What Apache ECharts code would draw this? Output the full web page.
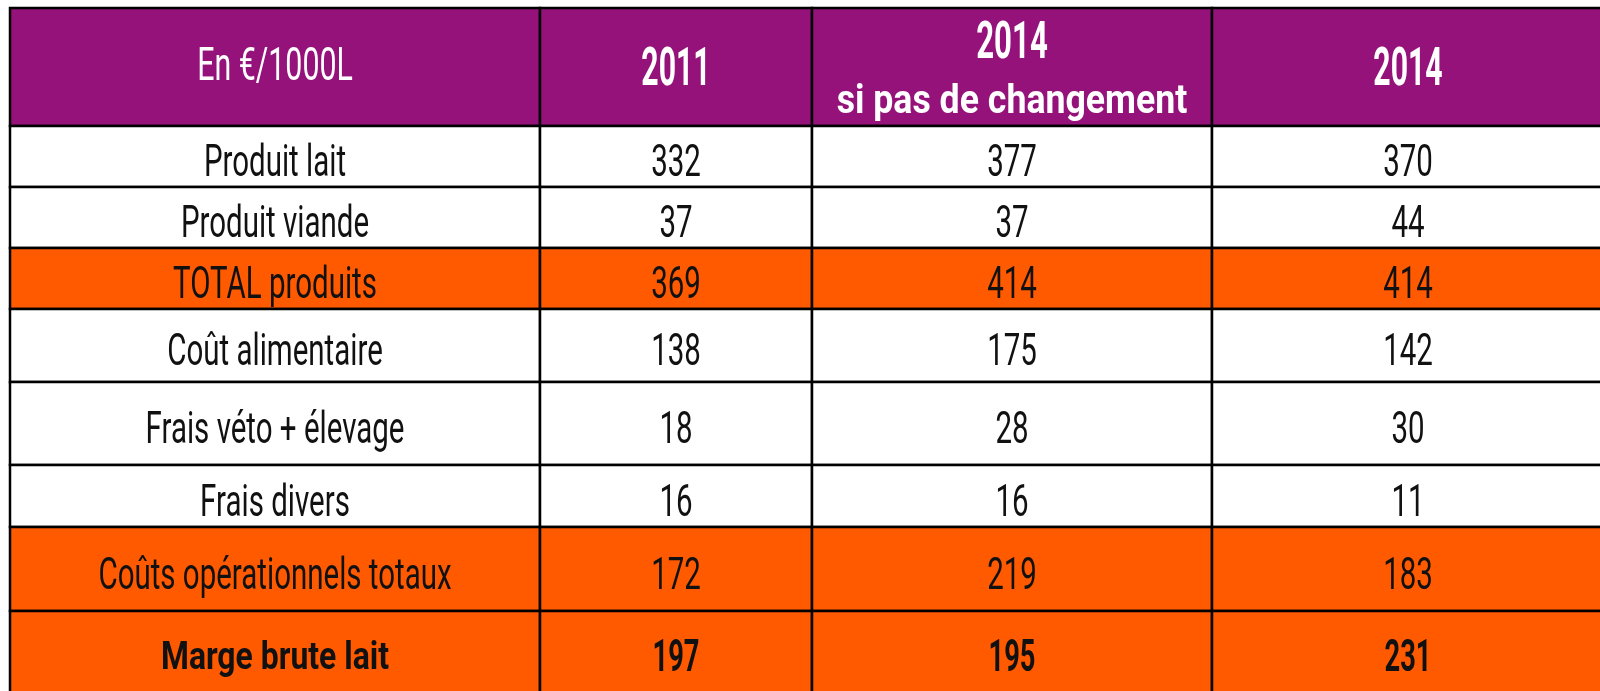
<!DOCTYPE html>
<html>
<head>
<meta charset="utf-8">
<script src="https://cdn.jsdelivr.net/npm/echarts@6/dist/echarts.min.js"></script>
<style>
  html, body { margin: 0; padding: 0; background: #fff; }
  #chart { width: 1600px; height: 691px; }
</style>
</head>
<body>
<div id="chart"></div>
<script>
  // table content
  const headerTop = ['En €/1000L', '2011', '2014', '2014']
  const headerSub = ['', '', 'si pas de changement', '']
  const rowLabels = ['Produit lait', 'Produit viande', 'TOTAL produits', 'Coût alimentaire', 'Frais véto + élevage', 'Frais divers', 'Coûts opérationnels totaux', 'Marge brute lait']
  const values2011 = [332, 37, 369, 138, 18, 16, 172, 197]
  const values2014Same = [377, 37, 414, 175, 28, 16, 219, 195]
  const values2014 = [370, 44, 414, 142, 30, 11, 183, 231]
  const orangeRows = [2, 6, 7]
  const boldRows = [7]

  // layout (pixel grid of the sheet)
  const colEdges = [10, 540, 812, 1212, 1604]
  const rowEdges = [8, 126, 187, 248, 309, 382, 465, 527, 611, 695]

  const PURPLE = '#94127a'
  const ORANGE = '#ff5a00'
  const FONT = 'Roboto'

  const cells = []
  headerTop.forEach((t, c) => cells.push({ value: [c, 0, 0], kind: 'head', text: t, sub: headerSub[c] }))
  const columns = [rowLabels, values2011, values2014Same, values2014]
  rowLabels.forEach((lbl, r) => {
    columns.forEach((col, c) => {
      cells.push({
        value: [c, r + 1, c === 0 ? 0 : col[r]],
        kind: orangeRows.includes(r) ? 'orange' : 'body',
        bold: boldRows.includes(r),
        text: String(col[r]),
        isLabel: c === 0,
      })
    })
  })

  function txt(x, y, str, size, weight, color, sx) {
    return {
      type: 'text', x: x, y: y, scaleX: sx, silent: true,
      style: { x: 0, y: 0, text: str, fill: color, align: 'center', verticalAlign: 'middle', fontFamily: FONT, fontSize: size, fontWeight: weight },
    }
  }

  function renderCell(params, api) {
    const cell = cells[params.dataIndex]
    const c = api.value(0), r = api.value(1)
    const p0 = api.coord([colEdges[c], rowEdges[r]])
    const p1 = api.coord([colEdges[c + 1], rowEdges[r + 1]])
    const cx = (p0[0] + p1[0]) / 2, cy = (p0[1] + p1[1]) / 2
    const fill = cell.kind === 'head' ? PURPLE : cell.kind === 'orange' ? ORANGE : '#fff'
    const children = [{
      type: 'rect',
      shape: { x: p0[0], y: p0[1], width: p1[0] - p0[0], height: p1[1] - p0[1] },
      style: { fill: fill, stroke: '#000', lineWidth: 2.5 },
    }]
    if (cell.kind === 'head') {
      if (c === 0) children.push(txt(cx, cy + 1, cell.text, 46, 'normal', '#fff', 0.66))
      else if (cell.sub) {
        children.push(txt(cx, cy - 22, cell.text, 52, 'bold', '#fff', 0.6))
        children.push(txt(cx, cy + 36, cell.sub, 41, 'bold', '#fff', 0.87))
      } else children.push(txt(cx, cy + 5, cell.text, 53, 'bold', '#fff', 0.57))
    } else if (cell.bold) {
      children.push(txt(cx, cy + 6.5, cell.text, cell.isLabel ? 38 : 44, 'bold', '#111', cell.isLabel ? 0.84 : 0.62))
    } else {
      children.push(txt(cx, cy + 8.5, cell.text, 44, 'normal', '#111', 0.67))
    }
    return { type: 'group', children: children }
  }

  const chart = echarts.init(document.getElementById('chart'))
  chart.setOption({
    animation: false,
    backgroundColor: '#fff',
    grid: { left: 0, right: 0, top: 0, bottom: 0 },
    xAxis: { type: 'value', min: 0, max: 1600, show: false },
    yAxis: { type: 'value', min: 0, max: 691, inverse: true, show: false },
    series: [{
      type: 'custom',
      renderItem: renderCell,
      data: cells.map(d => d.value),
      clip: false,
    }],
  })
</script>
</body>
</html>
